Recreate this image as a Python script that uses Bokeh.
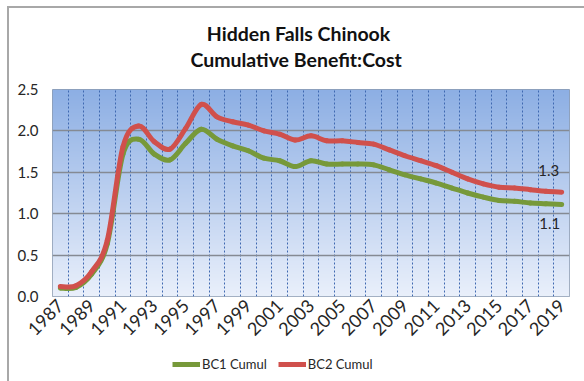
import numpy as np
from bokeh.plotting import figure
from bokeh.layouts import column
from bokeh.models import (Range1d, FixedTicker, Label, Legend, LegendItem,
                          ColumnDataSource, NumeralTickFormatter)
from bokeh.core.properties import value
from bokeh.embed import file_html
from bokeh.resources import INLINE

# ---------------- data ----------------
years = list(range(1987, 2020))
bc1_cumul = [0.10, 0.11, 0.27, 0.64, 1.72, 1.90, 1.72, 1.65, 1.85, 2.02,
             1.90, 1.82, 1.76, 1.67, 1.64, 1.57, 1.64, 1.60, 1.60, 1.60,
             1.59, 1.53, 1.47, 1.42, 1.37, 1.31, 1.25, 1.20, 1.16, 1.15,
             1.13, 1.12, 1.11]
bc2_cumul = [0.12, 0.13, 0.30, 0.68, 1.81, 2.06, 1.87, 1.78, 2.03, 2.32,
             2.17, 2.11, 2.07, 2.00, 1.96, 1.89, 1.94, 1.88, 1.88, 1.86,
             1.84, 1.77, 1.70, 1.64, 1.58, 1.50, 1.42, 1.36, 1.32, 1.31,
             1.29, 1.27, 1.26]
series_names = ["BC1 Cumul", "BC2 Cumul"]
y_ticks = [0.0, 0.5, 1.0, 1.5, 2.0, 2.5]
x_tick_years = years[::2]
title_lines = ["Hidden Falls Chinook", "Cumulative  Benefit:Cost"]

GREEN = "#77993a"
RED = "#d0504c"
FONT = "Lato"

W = 575
H_TITLE, H_MAIN, H_LEG = 71, 267, 35


def strip(height):
    f = figure(width=W, height=height, output_backend="svg", toolbar_location=None,
               x_range=Range1d(0, 1), y_range=Range1d(0, 1), title=None,
               x_axis_location=None, y_axis_location=None, min_border=0)
    f.grid.visible = False
    f.outline_line_color = None
    f.background_fill_color = "white"
    f.border_fill_color = "white"
    return f


# ---------------- title strip ----------------
t_fig = strip(H_TITLE)
for i, line in enumerate(title_lines):
    t_fig.add_layout(Label(x=246, y=46 - 26 * i, x_units="screen", y_units="screen",
                           text=line, text_align="center", text_baseline="middle",
                           text_font=FONT, text_font_style="bold",
                           text_font_size="19.5px", text_color="#111111"))

# ---------------- main figure ----------------
p = figure(width=W, height=H_MAIN, output_backend="svg", toolbar_location=None,
           title=None,
           x_range=Range1d(years[0] - 0.5, years[-1] + 0.5),
           y_range=Range1d(y_ticks[0], y_ticks[-1]),
           min_border_left=43, min_border_right=15,
           min_border_top=10, min_border_bottom=50)
p.background_fill_color = "white"
p.border_fill_color = "white"
p.outline_line_color = "#8c9bb0"
p.outline_line_width = 1

# gradient background of the plot area
n = 256
t = np.linspace(0, 1, n)  # 0 bottom -> 1 top
top = np.array([141, 175, 228])
bot = np.array([234, 240, 251])
cols = (bot[None, :] * (1 - t[:, None]) + top[None, :] * t[:, None]).astype(np.uint32)
img = np.empty((n, 1), dtype=np.uint32)
view = img.view(dtype=np.uint8).reshape((n, 1, 4))
view[:, 0, 0] = cols[:, 0]
view[:, 0, 1] = cols[:, 1]
view[:, 0, 2] = cols[:, 2]
view[:, 0, 3] = 255
p.image_rgba(image=[img], x=years[0] - 0.5, y=y_ticks[0],
             dw=len(years), dh=y_ticks[-1] - y_ticks[0], level="image")

# grids
p.ygrid.ticker = FixedTicker(ticks=y_ticks)
p.ygrid.grid_line_color = "#858a93"
p.ygrid.grid_line_width = 1.5
p.xgrid.ticker = FixedTicker(ticks=[y + 0.5 for y in years[:-1]])
p.xgrid.grid_line_color = "#3f68b0"
p.xgrid.grid_line_dash = "2 2"
p.xgrid.grid_line_width = 1
p.xgrid.level = "underlay"
p.ygrid.level = "underlay"

# axes
p.xaxis.ticker = FixedTicker(ticks=x_tick_years)
p.xaxis.major_label_orientation = np.pi / 4
p.yaxis.ticker = FixedTicker(ticks=y_ticks)
p.yaxis.formatter = NumeralTickFormatter(format="0.0")
for ax in (p.xaxis, p.yaxis):
    ax.axis_line_color = None
    ax.major_tick_line_color = None
    ax.minor_tick_line_color = None
    ax.major_tick_out = 0
    ax.major_tick_in = 0
    ax.major_label_text_font = FONT
    ax.major_label_text_color = "#262626"
p.yaxis.major_label_text_font_size = "15px"
p.xaxis.major_label_text_font_size = "18px"
p.yaxis.major_label_standoff = 14
p.xaxis.major_label_standoff = 6


# smooth curves (Catmull-Rom -> cubic Bezier), computed from the data
def bezier_source(xs, ys):
    xs = np.asarray(xs, float)
    ys = np.asarray(ys, float)
    px = np.concatenate([[xs[0]], xs, [xs[-1]]])
    py = np.concatenate([[ys[0]], ys, [ys[-1]]])
    k = 1.0 / 6.0
    x0 = px[1:-2]; y0 = py[1:-2]
    x1 = px[2:-1]; y1 = py[2:-1]
    cx0 = x0 + (px[2:-1] - px[0:-3]) * k
    cy0 = y0 + (py[2:-1] - py[0:-3]) * k
    cx1 = x1 - (px[3:] - px[1:-2]) * k
    cy1 = y1 - (py[3:] - py[1:-2]) * k
    return ColumnDataSource(dict(x0=x0, y0=y0, x1=x1, y1=y1,
                                 cx0=cx0, cy0=cy0, cx1=cx1, cy1=cy1))


for vals, col in ((bc1_cumul, GREEN), (bc2_cumul, RED)):
    src = bezier_source(years, vals)
    p.bezier(x0="x0", y0="y0", x1="x1", y1="y1", cx0="cx0", cy0="cy0",
             cx1="cx1", cy1="cy1", source=src, line_color=col,
             line_width=5, line_cap="round")

# end data labels
p.text(x=[years[-1]], y=[bc2_cumul[-1]], text=[f"{bc2_cumul[-1]:.1f}"],
       x_offset=-13, y_offset=-22, text_align="center", text_baseline="middle",
       text_font=value(FONT), text_font_size="15px", text_color="#262626")
p.text(x=[years[-1]], y=[bc1_cumul[-1]], text=[f"{bc1_cumul[-1]:.1f}"],
       x_offset=-12, y_offset=19, text_align="center", text_baseline="middle",
       text_font=value(FONT), text_font_size="15px", text_color="#262626")

# ---------------- legend strip ----------------
q = strip(H_LEG)
leg_renderers = []
for col in (GREEN, RED):
    # one undefined point: the renderer has data (so the legend draws its
    # swatch) but nothing is drawn in the strip itself
    leg_renderers.append(q.line(x=[float("nan")], y=[float("nan")],
                                line_color=col, line_width=5))
legend = Legend(items=[LegendItem(label=series_names[0], renderers=[leg_renderers[0]]),
                       LegendItem(label=series_names[1], renderers=[leg_renderers[1]])],
                orientation="horizontal", location=(120, 9),
                glyph_width=28, glyph_height=16, label_standoff=2, spacing=11,
                padding=0, margin=0, border_line_color=None,
                background_fill_alpha=0,
                label_text_font=FONT, label_text_font_size="13px",
                label_text_color="#262626")
q.add_layout(legend)

layout = column(t_fig, p, q, spacing=0)
layout.styles = {"margin-left": "7px", "margin-top": "6px",
                 "border-left": "2px solid #a8a8a8", "border-top": "2px solid #a8a8a8"}

open("out.html", "w").write(file_html(layout, INLINE))
